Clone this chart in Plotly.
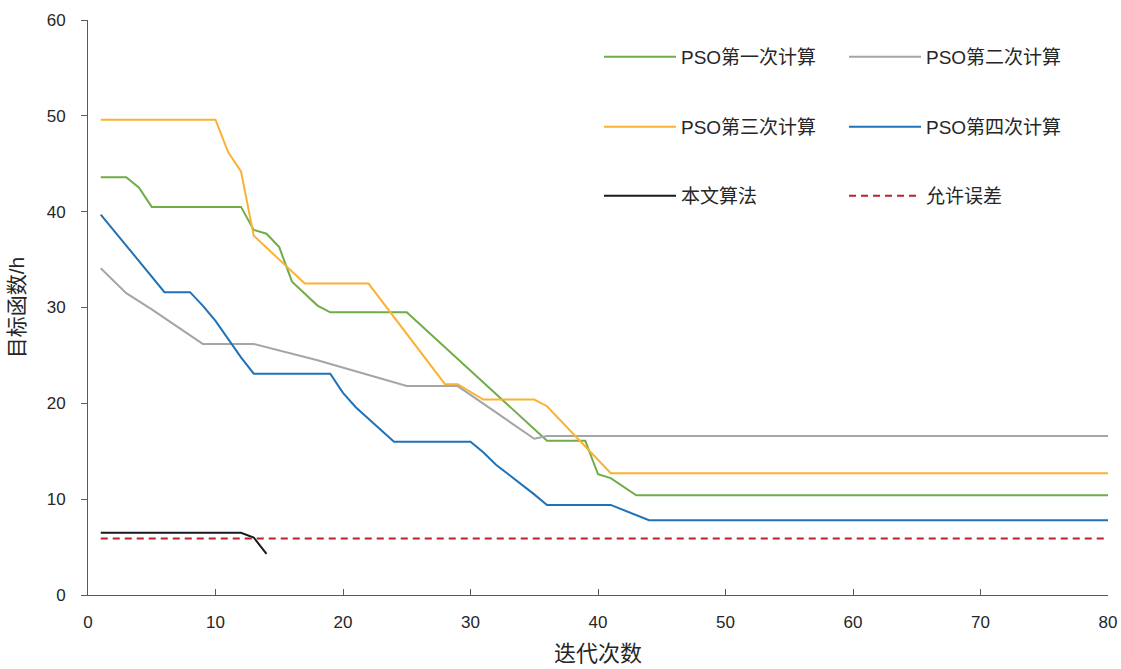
import plotly.graph_objects as go

# ---- data (breakpoints; lines are straight between them) ----
iter_pso1 = [1, 3, 4, 5, 12, 13, 14, 15, 16, 17, 18, 19, 25, 36, 39, 40, 41, 43, 80]
obj_pso1 = [43.6, 43.6, 42.5, 40.5, 40.5, 38.1, 37.7, 36.3, 32.7, 31.5, 30.2, 29.5, 29.5,
            16.1, 16.1, 12.6, 12.2, 10.4, 10.4]

iter_pso2 = [1, 3, 5, 6, 7, 8, 9, 13, 18, 25, 29, 35, 36, 80]
obj_pso2 = [34.1, 31.5, 29.8, 28.9, 28.0, 27.1, 26.2, 26.2, 24.5, 21.8, 21.8, 16.3, 16.6, 16.6]

iter_pso3 = [1, 10, 11, 12, 13, 17, 22, 28, 29, 31, 35, 36, 41, 80]
obj_pso3 = [49.6, 49.6, 46.2, 44.2, 37.5, 32.5, 32.5, 22.0, 22.0, 20.4, 20.4, 19.7, 12.7, 12.7]

iter_pso4 = [1, 6, 8, 9, 10, 11, 12, 13, 19, 20, 21, 24, 30, 31, 32, 35, 36, 41, 44, 80]
obj_pso4 = [39.7, 31.6, 31.6, 30.2, 28.6, 26.7, 24.8, 23.1, 23.1, 21.1, 19.6, 16.0, 16.0,
            14.9, 13.6, 10.5, 9.4, 9.4, 7.8, 7.8]

iter_ours = [1, 12, 13, 14]
obj_ours = [6.5, 6.5, 6.0, 4.3]

iter_tol = [1, 80]
obj_tol = [5.9, 5.9]

names = ["PSO第一次计算", "PSO第二次计算", "PSO第三次计算", "PSO第四次计算", "本文算法", "允许误差"]
colors = ["#70AD47", "#A5A5A5", "#F9B233", "#1F72B8", "#1A1A1A", "#B8222B"]

x_ticks = [0, 10, 20, 30, 40, 50, 60, 70, 80]
y_ticks = [0, 10, 20, 30, 40, 50, 60]

FONT = "Liberation Sans, Arial, Noto Sans CJK SC, sans-serif"

series = [
    (iter_pso1, obj_pso1, names[0], colors[0], "solid", "legend"),
    (iter_pso2, obj_pso2, names[1], colors[1], "solid", "legend"),
    (iter_pso3, obj_pso3, names[2], colors[2], "solid", "legend2"),
    (iter_pso4, obj_pso4, names[3], colors[3], "solid", "legend2"),
    (iter_ours, obj_ours, names[4], colors[4], "solid", "legend3"),
    (iter_tol, obj_tol, names[5], colors[5], "7px,5px", "legend3"),
]

fig = go.Figure()
for xs, ys, nm, col, dash, lg in series:
    fig.add_trace(go.Scatter(
        x=xs, y=ys, name=nm, mode="lines",
        line=dict(color=col, width=2, dash=dash),
        legend=lg,
    ))

W, H = 1121, 669
ml, mr, mt, mb = 88, 13, 20, 74

leg_common = dict(
    orientation="h", xanchor="left", yanchor="middle",
    xref="container", yref="container",
    entrywidth=158, entrywidthmode="pixels",
    itemwidth=72, bgcolor="rgba(0,0,0,0)",
    font=dict(family=FONT, size=19, color="#262626"),
    traceorder="normal",
)

fig.update_layout(
    width=W, height=H,
    margin=dict(l=ml, r=mr, t=mt, b=mb, pad=0, autoexpand=False),
    paper_bgcolor="white", plot_bgcolor="white",
    font=dict(family=FONT, color="#262626"),
    legend=dict(leg_common, x=599 / W, y=1 - 57 / H),
    legend2=dict(leg_common, x=599 / W, y=1 - 127 / H),
    legend3=dict(leg_common, x=599 / W, y=1 - 196 / H),
    xaxis=dict(
        range=[0, 80], tickvals=x_ticks, ticktext=[str(v) for v in x_ticks],
        showgrid=False, zeroline=False, automargin=False,
        showline=True, linecolor="#595959", linewidth=1,
        ticks="inside", ticklen=6, tickcolor="#595959",
        tickfont=dict(family=FONT, size=17, color="#262626"),
        ticklabelstandoff=12,
        title=dict(text="迭代次数", font=dict(family=FONT, size=22, color="#262626"), standoff=14),
    ),
    yaxis=dict(
        range=[0, 60], tickvals=y_ticks, ticktext=[str(v) for v in y_ticks],
        showgrid=False, zeroline=False, automargin=False,
        showline=True, linecolor="#595959", linewidth=1,
        ticks="outside", ticklen=6, tickcolor="#595959",
        tickfont=dict(family=FONT, size=17, color="#262626"),
        ticklabelstandoff=12,
        title=dict(text="目标函数/h", font=dict(family=FONT, size=21, color="#262626"), standoff=16),
    ),
)

fig.write_html("out.html")
